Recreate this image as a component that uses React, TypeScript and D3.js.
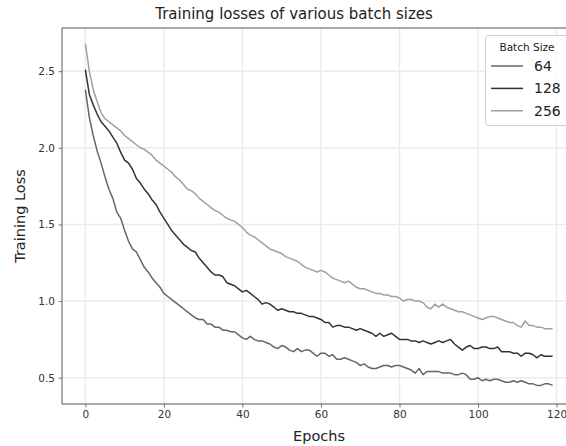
import React, { useEffect, useRef } from 'react';
import * as d3 from 'd3';

const epochs = d3.range(0, 120);

const batchSizes = ['64', '128', '256'];
const lineColors = ['#666666', '#333333', '#a0a0a0'];

const loss64 = [
  2.38, 2.2, 2.08, 1.98, 1.9, 1.81, 1.73, 1.67, 1.58, 1.54,
  1.46, 1.39, 1.34, 1.32, 1.27, 1.22, 1.19, 1.15, 1.12, 1.09,
  1.05, 1.03, 1.01, 0.99, 0.97, 0.95, 0.93, 0.91, 0.89, 0.88,
  0.88, 0.85, 0.85, 0.83, 0.83, 0.81, 0.81, 0.8, 0.8, 0.78,
  0.76, 0.75, 0.77, 0.75, 0.74, 0.74, 0.73, 0.72, 0.7, 0.69,
  0.71, 0.7, 0.68, 0.67, 0.69, 0.67, 0.68, 0.68, 0.66, 0.64,
  0.66, 0.66, 0.64, 0.65, 0.62, 0.62, 0.63, 0.62, 0.61, 0.6,
  0.58, 0.59, 0.57, 0.56, 0.56, 0.57, 0.58, 0.58, 0.57, 0.58,
  0.58, 0.57, 0.56, 0.55, 0.53, 0.56, 0.52, 0.54, 0.54, 0.54,
  0.54, 0.53, 0.53, 0.53, 0.52, 0.52, 0.53, 0.52, 0.49, 0.49,
  0.5, 0.48, 0.49, 0.48, 0.49, 0.49, 0.48, 0.47, 0.47, 0.48,
  0.47, 0.48, 0.47, 0.46, 0.46, 0.45, 0.45, 0.46, 0.46, 0.45,
];

const loss128 = [
  2.51, 2.35, 2.28, 2.22, 2.17, 2.14, 2.11, 2.07, 2.03, 1.97,
  1.92, 1.9, 1.86, 1.8, 1.77, 1.73, 1.7, 1.66, 1.63, 1.58,
  1.54, 1.5, 1.46, 1.43, 1.4, 1.37, 1.35, 1.33, 1.32, 1.28,
  1.25, 1.22, 1.19, 1.17, 1.17, 1.16, 1.12, 1.11, 1.1, 1.08,
  1.06, 1.07, 1.05, 1.03, 1.01, 0.98, 0.99, 0.98, 0.96, 0.94,
  0.95, 0.94, 0.93, 0.93, 0.92, 0.92, 0.91, 0.9, 0.9, 0.89,
  0.88, 0.86, 0.86, 0.83, 0.84, 0.84, 0.83, 0.83, 0.82, 0.81,
  0.82, 0.81, 0.8, 0.79, 0.77, 0.79, 0.77, 0.78, 0.79, 0.77,
  0.75, 0.75, 0.75, 0.74, 0.74, 0.73, 0.74, 0.73, 0.72, 0.73,
  0.74, 0.73, 0.74, 0.75, 0.72, 0.7, 0.68, 0.7, 0.71, 0.69,
  0.69, 0.7, 0.7, 0.69, 0.69, 0.7, 0.67, 0.67, 0.67, 0.66,
  0.66, 0.64, 0.66, 0.66, 0.65, 0.63, 0.65, 0.64, 0.64, 0.64,
];

const loss256 = [
  2.68, 2.5, 2.38, 2.3, 2.23, 2.19, 2.17, 2.15, 2.13, 2.11,
  2.08, 2.06, 2.04, 2.02, 2.0, 1.99, 1.97, 1.95, 1.92, 1.9,
  1.88, 1.86, 1.84, 1.81, 1.79, 1.76, 1.73, 1.72, 1.7, 1.67,
  1.65, 1.63, 1.61, 1.59, 1.58, 1.56, 1.54, 1.53, 1.52, 1.5,
  1.48, 1.45, 1.43, 1.42, 1.4, 1.38, 1.36, 1.34, 1.33, 1.32,
  1.31, 1.29, 1.28, 1.27, 1.26, 1.24, 1.22, 1.21, 1.2, 1.19,
  1.2, 1.19, 1.17, 1.15, 1.14, 1.13, 1.12, 1.13, 1.11, 1.09,
  1.08, 1.08, 1.07, 1.06, 1.05, 1.05, 1.04, 1.04, 1.03, 1.03,
  1.02, 1.0, 1.01, 1.01, 1.0, 1.0, 0.99, 0.96, 0.95, 0.98,
  0.96, 0.98, 0.96, 0.95, 0.94, 0.93, 0.93, 0.92, 0.91, 0.9,
  0.89, 0.88, 0.89, 0.9, 0.9, 0.89, 0.88, 0.87, 0.86, 0.86,
  0.84, 0.83, 0.87, 0.84, 0.84, 0.83, 0.83, 0.82, 0.82, 0.82,
];

const xTicks = [0, 20, 40, 60, 80, 100, 120];
const yTicks = [0.5, 1.0, 1.5, 2.0, 2.5];

const font = 'DejaVu Sans, sans-serif';

export default function App() {
  const svgRef = useRef<SVGSVGElement>(null);

  useEffect(() => {
    const svg = d3.select(svgRef.current);
    svg.selectAll('*').remove();

    const width = 566;
    const height = 446;
    const plot = { left: 62, top: 28, right: 576, bottom: 404 };

    const series = [loss64, loss128, loss256];

    // matplotlib-style 5% margins
    const xScale = d3.scaleLinear().domain([-5.95, 124.95]).range([plot.left, plot.right]);
    const yScale = d3.scaleLinear().domain([0.3285, 2.7815]).range([plot.bottom, plot.top]);

    svg.attr('width', width).attr('height', height);
    svg.append('rect').attr('width', width).attr('height', height).attr('fill', '#ffffff');

    // Сетка
    const grid = svg.append('g');
    xTicks.forEach(t => {
      grid.append('line')
        .attr('x1', xScale(t)).attr('x2', xScale(t))
        .attr('y1', plot.top).attr('y2', plot.bottom)
        .attr('stroke', '#ebebeb').attr('stroke-width', 1.5);
    });
    yTicks.forEach(t => {
      grid.append('line')
        .attr('x1', plot.left).attr('x2', plot.right)
        .attr('y1', yScale(t)).attr('y2', yScale(t))
        .attr('stroke', '#ebebeb').attr('stroke-width', 1.5);
    });

    // Линии
    const line = d3.line<number>()
      .x((_, i) => xScale(epochs[i]))
      .y(d => yScale(d));

    series.forEach((s, i) => {
      svg.append('path')
        .datum(s)
        .attr('fill', 'none')
        .attr('stroke', lineColors[i])
        .attr('stroke-width', 1.5)
        .attr('stroke-linejoin', 'round')
        .attr('d', line);
    });

    // Оси
    const xAxis = svg.append('g')
      .attr('transform', `translate(0,${plot.bottom})`)
      .call(d3.axisBottom(xScale).tickValues(xTicks).tickFormat(d3.format('d')).tickSize(3.5).tickPadding(3.5));
    const yAxis = svg.append('g')
      .attr('transform', `translate(${plot.left},0)`)
      .call(d3.axisLeft(yScale).tickValues(yTicks).tickFormat(d3.format('.1f')).tickSize(3.5).tickPadding(3.5));

    [xAxis, yAxis].forEach(a => {
      a.select('.domain').remove();
      a.selectAll('.tick line').attr('stroke', '#555555').attr('stroke-width', 0.8);
      a.selectAll('.tick text')
        .attr('fill', '#333333')
        .style('font-family', font)
        .style('font-size', '10.5px');
    });

    // Рамка
    svg.append('path')
      .attr('d', `M${plot.right},${plot.top}H${plot.left}V${plot.bottom}H${plot.right}`)
      .attr('fill', 'none')
      .attr('stroke', '#555555')
      .attr('stroke-width', 1);

    // Заголовок и подписи осей
    svg.append('text')
      .attr('x', (plot.left + plot.right) / 2 - 25)
      .attr('y', 18.5)
      .attr('text-anchor', 'middle')
      .style('font-family', font)
      .style('font-size', '15px')
      .attr('fill', '#222222')
      .text('Training losses of various batch sizes');

    svg.append('text')
      .attr('x', (plot.left + plot.right) / 2)
      .attr('y', 441)
      .attr('text-anchor', 'middle')
      .style('font-family', font)
      .style('font-size', '14.5px')
      .attr('fill', '#222222')
      .text('Epochs');

    svg.append('text')
      .attr('transform', `translate(25,${(plot.top + plot.bottom) / 2}) rotate(-90)`)
      .attr('text-anchor', 'middle')
      .style('font-family', font)
      .style('font-size', '14.5px')
      .attr('fill', '#222222')
      .text('Training Loss');

    // Легенда
    const legend = svg.append('g');
    legend.append('rect')
      .attr('x', 485.5).attr('y', 35.5)
      .attr('width', 100).attr('height', 90)
      .attr('rx', 3)
      .attr('fill', '#ffffff').attr('fill-opacity', 0.8)
      .attr('stroke', '#d0d0d0');
    legend.append('text')
      .attr('x', 527).attr('y', 50.5)
      .attr('text-anchor', 'middle')
      .style('font-family', font)
      .style('font-size', '10.5px')
      .attr('fill', '#222222')
      .text('Batch Size');
    batchSizes.forEach((b, i) => {
      const y = 66 + i * 22.4;
      legend.append('line')
        .attr('x1', 491).attr('x2', 523)
        .attr('y1', y).attr('y2', y)
        .attr('stroke', lineColors[i]).attr('stroke-width', 1.5);
      legend.append('text')
        .attr('x', 534).attr('y', y + 5)
        .style('font-family', font)
        .style('font-size', '14px')
        .attr('fill', '#222222')
        .text(b);
    });
  }, []);

  return (
    <svg ref={svgRef} style={{ position: 'absolute', left: 0, top: 0, display: 'block' }}></svg>
  );
}
